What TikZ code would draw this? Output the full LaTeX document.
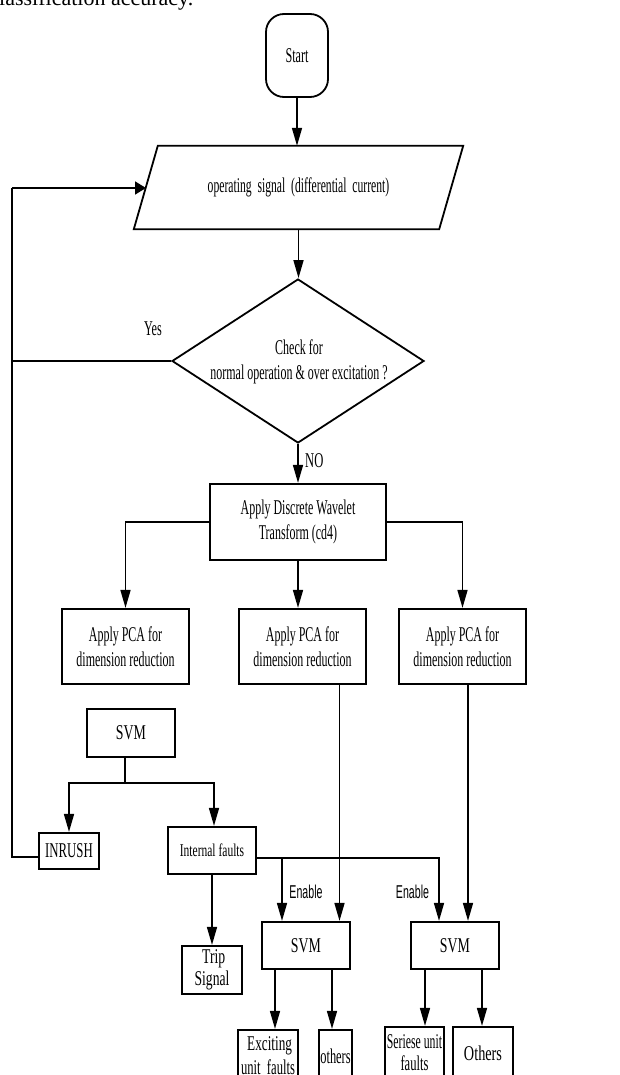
\documentclass[tikz,border=0pt]{standalone}
\usepackage{fontspec}
\setmainfont{Liberation Serif}
\newfontfamily\arialf{Liberation Sans}
\usetikzlibrary{shapes.geometric,arrows.meta}
\newcommand{\nt}[2][0.57]{\scalebox{#1}[1]{#2}}
\begin{document}
\begin{tikzpicture}[x=1pt,y=-1pt,
  every node/.style={font=\fontsize{21}{25}\selectfont, inner sep=0pt, align=center},
  box/.style={draw, line width=2.2pt, rectangle},
  conn/.style={line width=1.6pt},
  arr/.style={conn, -{Triangle[length=18pt,width=10pt]}},
  harr/.style={conn, -{Triangle[length=11pt,width=13pt]}},
  lbl/.style={font=\fontsize{21}{25}\selectfont}
]
\useasboundingbox (0,0) rectangle (619,1075);
\clip (0,0) rectangle (619,1075);

% cut caption line at the top
\node[anchor=base west, font=\fontsize{22}{22}\selectfont] (cap) at (-1,6) {lassification accuracy.};

% start
\node[draw, line width=1.8pt, rounded corners=18pt, minimum width=62pt, minimum height=83pt] (start) at (297,55.5) {\nt[0.58]{Start}};

% input parallelogram
\node[minimum width=329pt, minimum height=83pt] (op) at (298.5,187.5) {\nt[0.555]{operating\ \ signal\ \ (differential\ \ current)}};
\draw[line width=1.8pt] ([xshift=24pt]op.north west) -- (op.north east) -- ([xshift=-24pt]op.south east) -- (op.south west) -- cycle;
\coordinate (opL) at (146,188);

% decision
\node[diamond, draw, line width=1.8pt, minimum width=252pt, minimum height=164pt] (dia) at (298,361) {};
\node (diat) at (299,362) {\nt{Check for}\\\nt{normal\ operation\ \&\ over\ excitation\ ?}};

% DWT
\node[box, minimum width=176pt, minimum height=76pt] (dwt) at (298,522) {\nt{Apply Discrete Wavelet}\\\nt{Transform (cd4)}};

% PCA boxes
\node[box, minimum width=127pt, minimum height=75pt] (pca1) at (125.5,646.5) {\nt{Apply PCA for}\\\nt{dimension\ reduction}};
\node[box, minimum width=127pt, minimum height=75pt] (pca2) at (302.5,646.5) {\nt{Apply PCA for}\\\nt{dimension\ reduction}};
\node[box, minimum width=127pt, minimum height=75pt] (pca3) at (462.5,646.5) {\nt{Apply PCA for}\\\nt{dimension\ reduction}};

% SVM 1 and its outputs
\node[box, minimum width=88pt, minimum height=48pt] (svm1) at (131,733) {\nt[0.66]{SVM}};
\node[box, minimum width=60pt, minimum height=36pt] (inrush) at (69,851) {\nt[0.61]{INRUSH}};
\node[box, minimum width=88pt, minimum height=47pt, font=\fontsize{18}{22}\selectfont] (intf) at (212,850.5) {\nt[0.64]{Internal\ faults}};
\node[box, minimum width=60pt, minimum height=48pt, font=\fontsize{21}{22}\selectfont] (trip) at (212,970) {\nt[0.65]{\ Trip}\\\nt[0.65]{Signal}};

% SVM 2 and 3
\node[box, minimum width=88pt, minimum height=47pt] (svm2) at (306,945.5) {\nt[0.66]{SVM}};
\node[box, minimum width=88pt, minimum height=47pt] (svm3) at (455,945.5) {\nt[0.66]{SVM}};

% bottom outputs
\node[box, minimum width=60pt, minimum height=52pt, font=\fontsize{21}{24}\selectfont] (exc) at (268,1056) {\nt[0.63]{\ Exciting}\\\nt[0.6]{unit\ \ faults}};
\node[box, minimum width=33pt, minimum height=52pt] (oth1) at (335.5,1056) {\nt[0.59]{others}};
\node[box, minimum width=59pt, minimum height=52pt, font=\fontsize{21}{22}\selectfont] (ser) at (414.5,1053) {\nt[0.56]{Seriese\ unit}\\\nt[0.6]{faults}};
\node[box, minimum width=60pt, minimum height=52pt] (oth2) at (483,1053) {\nt[0.68]{Others}};

% connectors
\draw[arr] (start.south) -- (start.south |- op.north);
\draw[arr] (op.south) -- (op.south |- dia.north);
\coordinate (lt) at (12,188);
\draw[conn] ([yshift=-6pt]inrush.west) -| (lt);
\draw[harr] (lt) -- (opL);
\draw[conn] (dia.west) -- (dia.west -| lt);
\node[lbl] (yes) at (153,329) {\nt[0.58]{Yes}};

\draw[arr] (dia.south) -- (dwt.north);
\node[lbl, anchor=west] (no) at (305,461) {\nt[0.6]{NO}};

\draw[arr] (dwt.west) -| (pca1.north);
\draw[arr] (dwt.east) -| (pca3.north);
\draw[arr] (dwt.south) -- (dwt.south |- pca2.north);

\draw[arr] ([xshift=37pt]pca2.south) -- ([xshift=37pt]pca2.south |- svm2.north);
\draw[arr] ([xshift=5.5pt]pca3.south) -- ([xshift=5.5pt]pca3.south |- svm3.north);

\coordinate (s1) at (125,783);
\draw[conn] ([xshift=-6pt]svm1.south) -- (s1);
\draw[arr] (s1) -| (inrush.north);
\draw[arr] (s1) -| ([xshift=2pt]intf.north);

\coordinate (e1) at (282,858);
\draw[arr] ([yshift=-7.5pt]intf.east) -| ([xshift=-16pt]svm3.north);
\draw[arr] (e1) -- (e1 |- svm2.north);
\node[font=\arialf\fontsize{18.6}{20}\selectfont] (en1) at (306,892) {\nt{Enable}};
\node[font=\arialf\fontsize{18.6}{20}\selectfont] (en2) at (412.5,892) {\nt{Enable}};

\draw[arr] (intf.south) -- (trip.north);

\draw[arr] ([xshift=-31pt]svm2.south) -- ([xshift=-31pt]svm2.south |- exc.north);
\draw[arr] ([xshift=26pt]svm2.south) -- ([xshift=26pt]svm2.south |- oth1.north);
\draw[arr] ([xshift=-30pt]svm3.south) -- ([xshift=-30pt]svm3.south |- ser.north);
\draw[arr] ([xshift=27pt]svm3.south) -- ([xshift=27pt]svm3.south |- oth2.north);
\end{tikzpicture}
\end{document}
